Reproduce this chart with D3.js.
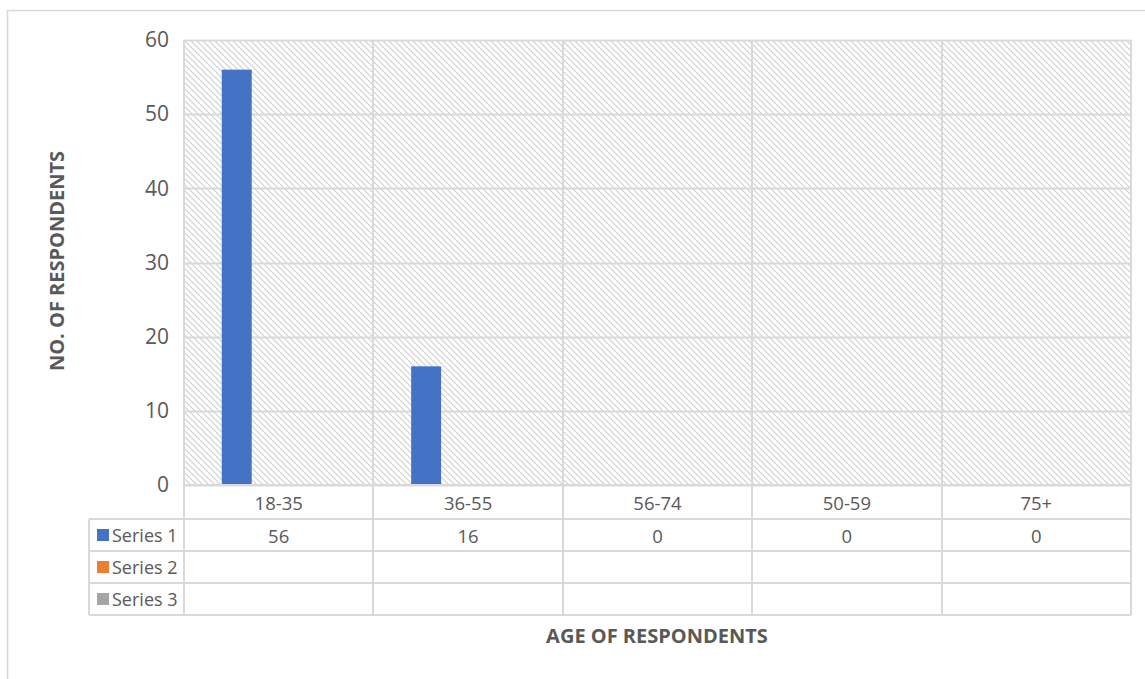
<!DOCTYPE html>
<html><head><meta charset="utf-8">
<script src="https://cdn.jsdelivr.net/npm/d3@7"></script>
<style>
html,body{margin:0;padding:0;background:#fff;}
svg{display:block;}
text{font-family:"Open Sans","Noto Sans",sans-serif;fill:#595959;}
</style></head>
<body>
<svg id="chart" width="1145" height="679"></svg>
<script>
const categories = ["18-35","36-55","56-74","50-59","75+"];
const seriesNames = ["Series 1","Series 2","Series 3"];
const seriesColors = ["#4472C4","#ED7D31","#A5A5A5"];
const series1 = [56,16,0,0,0];
const series2 = [null,null,null,null,null];
const series3 = [null,null,null,null,null];
const seriesValues = [series1,series2,series3];
const yTicks = [0,10,20,30,40,50,60];
const yTitle = "NO. OF RESPONDENTS";
const xTitle = "AGE OF RESPONDENTS";

const svg = d3.select("#chart");
const gridColor = "#d9d9d9";

// outer chart border
svg.append("rect").attr("x",7.5).attr("y",10.5).attr("width",1200).attr("height",800)
  .attr("fill","#fff").attr("stroke",gridColor).attr("stroke-width",1.5);

const plot = {left:184, right:1131, top:40, bottom:485};
const rowH = [34,32,32,32]; // header row + series rows
const tableLeft = 89;

const x = d3.scaleBand().domain(categories).range([plot.left, plot.right]).paddingInner(0).paddingOuter(0);
const y = d3.scaleLinear().domain([0,60]).range([plot.bottom, plot.top]);
const xs = d3.scaleBand().domain(seriesNames).range([0, x.bandwidth()]).paddingInner(0.286).paddingOuter(0.9);

// hatch pattern
const defs = svg.append("defs");
const pat = defs.append("pattern").attr("id","hatch").attr("patternUnits","userSpaceOnUse")
  .attr("width",6).attr("height",6);
pat.append("rect").attr("width",6).attr("height",6).attr("fill","#ffffff");
pat.append("path").attr("d","M-1,-1 L7,7 M-1,5 L1,7 M5,-1 L7,1").attr("stroke","#cfcfcf").attr("stroke-width",1.1);

svg.append("rect").attr("x",plot.left).attr("y",plot.top).attr("width",plot.right-plot.left)
  .attr("height",plot.bottom-plot.top).attr("fill","url(#hatch)");

// horizontal gridlines
svg.append("g").selectAll("line").data(yTicks).join("line")
  .attr("x1",plot.left).attr("x2",plot.right)
  .attr("y1",d=>Math.round(y(d))+0.5).attr("y2",d=>Math.round(y(d))+0.5)
  .attr("stroke",gridColor).attr("stroke-width",2);

// y tick labels via axis
const yAxis = d3.axisLeft(y).tickValues(yTicks).tickSize(0).tickPadding(15);
const ya = svg.append("g").attr("transform",`translate(${plot.left},0)`).call(yAxis);
ya.select(".domain").remove();
ya.selectAll("text").style("font-size","21px").style("fill","#595959");

// bars
seriesValues.forEach((vals,si)=>{
  svg.append("g").selectAll("rect").data(categories.map((c,i)=>({c,v:vals[i]})).filter(d=>d.v!=null && d.v>0))
    .join("rect")
    .attr("x",d=>x(d.c)+xs(seriesNames[si]))
    .attr("width",xs.bandwidth())
    .attr("y",d=>y(d.v)).attr("height",d=>y(0)-y(d.v))
    .attr("fill",seriesColors[si]);
});

// table
const rowTops = [plot.bottom];
rowH.forEach(h=>rowTops.push(rowTops[rowTops.length-1]+h));
const tableBottom = rowTops[rowTops.length-1];
const tg = svg.append("g");
const bounds = categories.map(c=>x(c)).concat([plot.right]);
tg.selectAll("line.v").data(bounds).join("line").attr("class","v")
  .attr("x1",d=>Math.round(d)).attr("x2",d=>Math.round(d))
  .attr("y1",plot.top).attr("y2",tableBottom)
  .attr("stroke",gridColor).attr("stroke-width",2);
tg.append("line").attr("x1",tableLeft).attr("x2",tableLeft).attr("y1",rowTops[1]).attr("y2",tableBottom)
  .attr("stroke",gridColor).attr("stroke-width",2);
rowTops.forEach((yy,i)=>{
  tg.append("line").attr("x1",i===0?plot.left:tableLeft).attr("x2",plot.right)
    .attr("y1",yy).attr("y2",yy).attr("stroke",gridColor).attr("stroke-width",2);
});
tg.selectAll("text.cat").data(categories).join("text").attr("class","cat")
  .attr("x",d=>x(d)+x.bandwidth()/2).attr("y",rowTops[0]+rowH[0]/2)
  .attr("text-anchor","middle").attr("dominant-baseline","central")
  .style("font-size","18.5px").text(d=>d);
seriesNames.forEach((s,si)=>{
  const cy = rowTops[si+1]+rowH[si+1]/2;
  tg.append("rect").attr("x",97).attr("y",cy-6).attr("width",12).attr("height",12).attr("fill",seriesColors[si]);
  tg.append("text").attr("x",112).attr("y",cy).attr("dominant-baseline","central")
    .style("font-size","18px").text(s);
  tg.selectAll(null).data(categories.map((c,i)=>({c,v:seriesValues[si][i]})).filter(d=>d.v!=null))
    .join("text").attr("x",d=>x(d.c)+x.bandwidth()/2).attr("y",cy)
    .attr("text-anchor","middle").attr("dominant-baseline","central")
    .style("font-size","18.5px").text(d=>d.v);
});

// axis titles
svg.append("text").attr("x",657).attr("y",643).attr("text-anchor","middle")
  .style("font-size","20px").style("font-weight","bold").text(xTitle);
svg.append("text").attr("transform","translate(64,261) rotate(-90)").attr("text-anchor","middle")
  .style("font-size","20px").style("font-weight","bold").text(yTitle);
</script>
</body></html>
